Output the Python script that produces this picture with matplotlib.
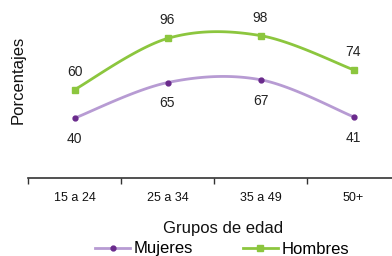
import numpy as np
import matplotlib.pyplot as plt

plt.rcParams['font.family'] = ['Liberation Sans', 'DejaVu Sans']

# === Data ===
grupos = ["15 a 24", "25 a 34", "35 a 49", "50+"]
mujeres = [40, 65, 67, 41]
hombres = [60, 96, 98, 74]


def smooth_curve(x, y, n=40):
    """Catmull-Rom style smoothing (like spreadsheet 'smoothed line')."""
    x = np.asarray(x, float)
    y = np.asarray(y, float)
    xs, ys = [], []
    for i in range(len(x) - 1):
        p0 = np.array([x[max(i - 1, 0)], y[max(i - 1, 0)]])
        p1 = np.array([x[i], y[i]])
        p2 = np.array([x[i + 1], y[i + 1]])
        p3 = np.array([x[min(i + 2, len(x) - 1)], y[min(i + 2, len(x) - 1)]])
        c1 = p1 + (p2 - p0) / 6
        c2 = p2 - (p3 - p1) / 6
        t = np.linspace(0, 1, n)[:, None]
        pts = ((1 - t) ** 3) * p1 + 3 * ((1 - t) ** 2) * t * c1 \
            + 3 * (1 - t) * t ** 2 * c2 + t ** 3 * p2
        xs.extend(pts[:, 0])
        ys.extend(pts[:, 1])
    return np.array(xs), np.array(ys)


fig = plt.figure(figsize=(3.92, 2.56), dpi=100)
ax = fig.add_axes([28 / 392, 1 - 178 / 256, 372 / 392, 178 / 256])

xpos = np.arange(len(grupos)) + 0.5

purple_line = "#B79BD3"
purple_dot = "#6A2A8C"
green = "#8CC63E"

sx, sy = smooth_curve(xpos, mujeres)
ax.plot(sx, sy, color=purple_line, lw=2, solid_capstyle="round")
ax.plot(xpos, mujeres, "o", color=purple_dot, ms=3.5, ls="none")

sx, sy = smooth_curve(xpos, hombres)
ax.plot(sx, sy, color=green, lw=2, solid_capstyle="round")
ax.plot(xpos, hombres, "s", color=green, ms=5, ls="none")

for x, v in zip(xpos, mujeres):
    ax.annotate(str(v), (x, v), xytext=(0, -15), textcoords="offset points",
                ha="center", va="center", fontsize=10, color="#222222")
for x, v in zip(xpos, hombres):
    ax.annotate(str(v), (x, v), xytext=(0, 13), textcoords="offset points",
                ha="center", va="center", fontsize=10, color="#222222")

ax.set_xlim(0, 4)
ax.set_ylim(-2, 123)
ax.set_yticks([])
ax.set_xticks([0, 1, 2, 3, 4])
ax.set_xticklabels([])
ax.set_xticks(xpos, minor=True)
ax.set_xticklabels(grupos, minor=True, fontsize=9, color="#111111")
ax.tick_params(axis="x", which="major", length=4, width=1, color="#333333")
ax.tick_params(axis="x", which="minor", length=0, pad=10)
for s in ["top", "right", "left"]:
    ax.spines[s].set_visible(False)
ax.spines["bottom"].set_color("#333333")
ax.spines["bottom"].set_linewidth(1.2)

fig.text(223 / 392, 1 - 228 / 256, "Grupos de edad", ha="center", va="center",
         fontsize=12, color="#111111")
fig.text(18 / 392, 1 - 80 / 256, "Porcentajes", ha="center", va="center",
         rotation=90, fontsize=12, color="#111111")

h1 = plt.Line2D([], [], color=purple_line, lw=2, marker="o",
                markerfacecolor=purple_dot, markeredgecolor=purple_dot, ms=3.5)
h2 = plt.Line2D([], [], color=green, lw=2, marker="s", ms=5)
fig.legend([h1, h2], ["Mujeres", "Hombres"], loc="center",
           bbox_to_anchor=(222 / 392, 1 - 249 / 256), ncol=2, frameon=False,
           fontsize=12, handlelength=2.1, handletextpad=0.2, columnspacing=3.0,
           borderpad=0)

fig.savefig("out.png", dpi=100)
